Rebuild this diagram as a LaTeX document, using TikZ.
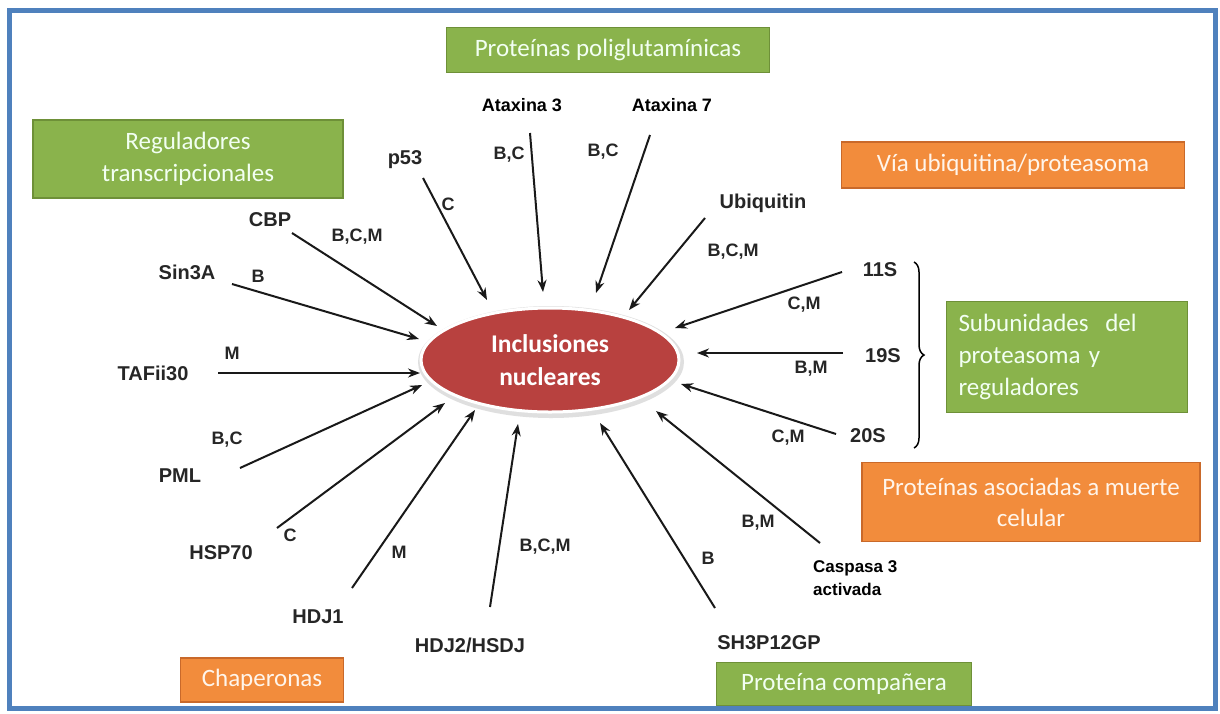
\documentclass[tikz,border=0pt]{standalone}
\usepackage{fontspec}
\setmainfont{Liberation Sans}
\newfontfamily\boxfont{Carlito}
\usetikzlibrary{shapes.geometric,decorations.pathreplacing,arrows.meta}

\definecolor{frameblue}{HTML}{4F81BD}
\definecolor{boxgreen}{HTML}{8AB34C}
\definecolor{boxgreenline}{HTML}{6E9038}
\definecolor{boxorange}{HTML}{F28C3C}
\definecolor{boxorangeline}{HTML}{C9692A}
\definecolor{inclred}{HTML}{B8413F}
\definecolor{labelgray}{HTML}{262626}

\begin{document}
\begin{tikzpicture}[x=1pt,y=-1pt]
       \tikzstyle{every node}=[font=\fontsize{20}{23}\selectfont\bfseries, text=labelgray]
       \tikzstyle{prot}=[inner sep=1pt]
       \tikzstyle{protb}=[inner sep=1pt, text=black, font=\fontsize{18}{23}\selectfont\bfseries]
       \tikzstyle{code}=[inner sep=1pt, font=\fontsize{18}{22}\selectfont\bfseries]
       \tikzstyle{link}=[line width=2pt, black!90, -{Stealth[length=12pt,width=9pt]}]
       \tikzstyle{greenbox}=[fill=boxgreen, draw=boxgreenline, line width=1.2pt,
          text=green!5!white, font=\boxfont\fontsize{25}{32}\selectfont, align=center]
       \tikzstyle{orangebox}=[fill=boxorange, draw=boxorangeline, line width=1.2pt,
          text=orange!8!white, font=\boxfont\fontsize{25}{31}\selectfont, align=center]

   \useasboundingbox (0,0) rectangle (1220,713);
   \fill[white] (0,0) rectangle (1220,713);
   \draw[frameblue, line width=5pt] (9.5,10) rectangle (1215,708);

% centre
   \node[ellipse, minimum width=266, minimum height=112, fill=gray!25] (inclshadow) at (551,362) {};
   \node[ellipse, minimum width=258, minimum height=104, inner sep=0pt,
         fill=inclred, draw=white, line width=3pt, align=center,
         text=white, font=\boxfont\bfseries\fontsize{25.5}{33}\selectfont] (incl) at (550,360)
         {Inclusiones\\nucleares};

% category boxes
   \node[greenbox, minimum width=323, minimum height=45] (polyglut) at (608,50) {Proteínas poliglutamínicas};
   \node[greenbox, minimum width=310, minimum height=78] (transreg) at (188,159) {Reguladores\\transcripcionales};
   \node[orangebox, minimum width=343, minimum height=46] (ubiqpath) at (1013,165) {Vía ubiquitina/proteasoma};
   \node[greenbox, minimum width=241, minimum height=111, text width=217, align=left] (subunits) at (1067,357)
         {Subunidades\ \ del\\proteasoma y\\reguladores};
   \node[orangebox, minimum width=338, minimum height=79] (celldeath) at (1031,502) {Proteínas asociadas a muerte\\celular};
   \node[orangebox, minimum width=163, minimum height=44] (chaperones) at (262,680) {Chaperonas};
   \node[greenbox, minimum width=255, minimum height=43] (partner) at (844,684) {Proteína compañera};

% proteins
   \node[prot] (p53) at (405,160) {p53};
   \node[protb] (ataxin3) at (522,105) {Ataxina 3};
   \node[protb] (ataxin7) at (672,105) {Ataxina 7};
   \node[prot] (ubiquitin) at (763,203) {Ubiquitin};
   \node[prot] (s11) at (880,270) {11S};
   \node[prot] (s19) at (883,356) {19S};
   \node[prot] (s20) at (868,436) {20S};
   \node[protb, align=left, anchor=west, font=\fontsize{17}{23}\selectfont\bfseries] (caspase) at (812,578) {Caspasa 3\\activada};
   \node[prot] (sh3p) at (769,643) {SH3P12GP};
   \node[prot] (hdj2) at (470,645) {HDJ2/HSDJ};
   \node[prot] (hdj1) at (318,617) {HDJ1};
   \node[prot] (hsp70) at (221,553) {HSP70};
   \node[prot] (pml) at (180,476) {PML};
   \node[prot] (tafii) at (153,373) {TAFii30};
   \node[prot] (sin3a) at (187,272) {Sin3A};
   \node[prot] (cbp) at (270,220) {CBP};

% arrow ends
   \coordinate (p53s) at (423,178);     \coordinate (p53e) at (487,300);
   \coordinate (atx3s) at (530,133);    \coordinate (atx3e) at (543,292);
   \coordinate (atx7s) at (650,135);    \coordinate (atx7e) at (596,293);
   \coordinate (ubqs) at (705,218);     \coordinate (ubqe) at (629,310);
   \coordinate (s11s) at (842,272);     \coordinate (s11e) at (675,328);
   \coordinate (s19s) at (843,353);     \coordinate (s19e) at (697,353);
   \coordinate (s20s) at (836,434);     \coordinate (s20e) at (681,384);
   \coordinate (casps) at (820,543);    \coordinate (caspe) at (656,411);
   \coordinate (sh3s) at (715,608);     \coordinate (sh3e) at (600,423);
   \coordinate (hdj2s) at (490,607);    \coordinate (hdj2e) at (518,424);
   \coordinate (hdj1s) at (352,588);    \coordinate (hdj1e) at (475,410);
   \coordinate (hsps) at (277,528);     \coordinate (hspe) at (445,403);
   \coordinate (pmls) at (240,468);     \coordinate (pmle) at (422,385);
   \coordinate (tafs) at (218,373);     \coordinate (tafe) at (420,373);
   \coordinate (sins) at (232,284);     \coordinate (sine) at (419,339);
   \coordinate (cbps) at (292,233);     \coordinate (cbpe) at (437,326);

   \draw[link] (p53s) -- (p53e);
   \draw[link] (atx3s) -- (atx3e);
   \draw[link] (atx7s) -- (atx7e);
   \draw[link] (ubqs) -- (ubqe);
   \draw[link] (s11s) -- (s11e);
   \draw[link] (s19s) -- (s19e);
   \draw[link] (s20s) -- (s20e);
   \draw[link] (casps) -- (caspe);
   \draw[link] (sh3s) -- (sh3e);
   \draw[link] (hdj2s) -- (hdj2e);
   \draw[link] (hdj1s) -- (hdj1e);
   \draw[link] (hsps) -- (hspe);
   \draw[link] (pmls) -- (pmle);
   \draw[link] (tafs) -- (tafe);
   \draw[link] (sins) -- (sine);
   \draw[link] (cbps) -- (cbpe);

% detection methods
   \node[code] (p53m) at (448,204) {C};
   \node[code] (atx3m) at (509,155) {B,C};
   \node[code] (atx7m) at (603,152) {B,C};
   \node[code] (ubqm) at (733,252) {B,C,M};
   \node[code] (s11m) at (804,305) {C,M};
   \node[code] (s19m) at (811,369) {B,M};
   \node[code] (s20m) at (788,438) {C,M};
   \node[code] (caspm) at (758,523) {B,M};
   \node[code] (sh3m) at (708,558) {B};
   \node[code] (hdj2m) at (545,547) {B,C,M};
   \node[code] (hdj1m) at (399,552) {M};
   \node[code] (hspm) at (290,535) {C};
   \node[code] (pmlm) at (227,440) {B,C};
   \node[code] (tafm) at (232,353) {M};
   \node[code] (sinm) at (258,276) {B};
   \node[code] (cbpm) at (357,237) {B,C,M};

% proteasome brace
   \coordinate (bractop) at (914,262);
   \coordinate (bracbot) at (914,448);
   \draw[decorate, decoration={brace, amplitude=10pt}, line width=1.5pt] (bractop) -- (bracbot);

\end{tikzpicture}
\end{document}
